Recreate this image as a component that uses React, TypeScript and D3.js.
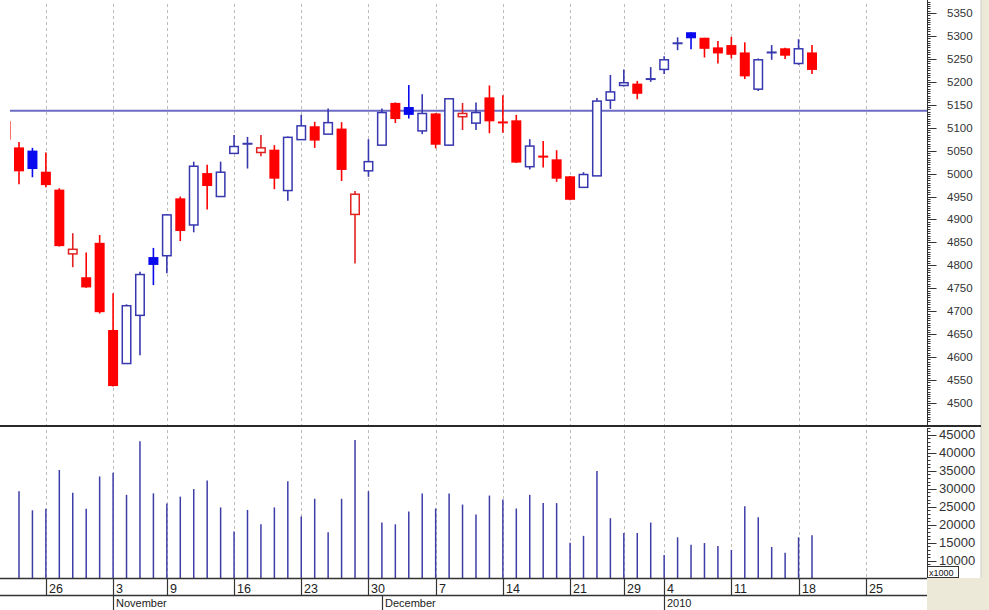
import React, { useEffect, useRef } from 'react';
import * as d3 from 'd3';

// trading days, Oct 21 2009 .. Jan 19 2010
const days = [
  'Oct 21', 'Oct 22', 'Oct 23', 'Oct 26', 'Oct 27', 'Oct 28', 'Oct 29', 'Oct 30',
  'Nov 3', 'Nov 4', 'Nov 5', 'Nov 6', 'Nov 9', 'Nov 10', 'Nov 11', 'Nov 12', 'Nov 13',
  'Nov 16', 'Nov 17', 'Nov 18', 'Nov 19', 'Nov 20', 'Nov 23', 'Nov 24', 'Nov 25', 'Nov 26', 'Nov 27',
  'Nov 30', 'Dec 1', 'Dec 2', 'Dec 3', 'Dec 4', 'Dec 7', 'Dec 8', 'Dec 9', 'Dec 10', 'Dec 11',
  'Dec 14', 'Dec 15', 'Dec 16', 'Dec 17', 'Dec 18', 'Dec 21', 'Dec 22', 'Dec 23', 'Dec 24',
  'Dec 29', 'Dec 30', 'Dec 31', 'Jan 4', 'Jan 5', 'Jan 6', 'Jan 7', 'Jan 8',
  'Jan 11', 'Jan 12', 'Jan 13', 'Jan 14', 'Jan 15', 'Jan 18', 'Jan 19'
];

const opens = [
  5113, 5056, 5049, 5003, 4964, 4825, 4773, 4848, 4658, 4586, 4691, 4817, 4821, 4945, 4888, 5000, 4950,
  5044, 5064, 5046, 5051, 4963, 5074, 5102, 5086, 5097, 4911, 5006, 5062, 5153, 5144, 5093, 5130,
  5062, 5124, 5110, 5165, 5112, 5115, 5015, 5038, 5030, 4993, 4970, 4995, 5160, 5192, 5195, 5205,
  5227, 5283, 5307, 5295, 5274, 5279, 5263, 5184, 5263, 5272, 5240, 5263
];
const highs = [
  5113, 5069, 5056, 5046, 4968, 4870, 4828, 4866, 4739, 4715, 4786, 4838, 4912, 4950, 5026, 5019, 5026,
  5084, 5080, 5084, 5062, 5081, 5128, 5113, 5142, 5112, 4962, 5075, 5142, 5155, 5193, 5173, 5132,
  5165, 5154, 5155, 5192, 5171, 5128, 5075, 5071, 5051, 4995, 5003, 5165, 5215, 5227, 5202, 5232,
  5256, 5297, 5308, 5296, 5289, 5298, 5286, 5251, 5280, 5274, 5293, 5280
];
const lows = [
  5075, 4977, 4992, 4970, 4841, 4796, 4751, 4695, 4536, 4586, 4604, 4757, 4783, 4853, 4872, 4922, 4950,
  5044, 5011, 5038, 4966, 4941, 5074, 5056, 5086, 4984, 4804, 4993, 5062, 5110, 5120, 5086, 5055,
  5060, 5095, 5095, 5088, 5089, 5023, 5009, 5013, 4982, 4942, 4970, 4995, 5141, 5190, 5162, 5200,
  5217, 5269, 5271, 5253, 5240, 5251, 5206, 5180, 5248, 5250, 5237, 5217
];
const closes = [
  5075, 5006, 5011, 4976, 4843, 4835, 4753, 4699, 4538, 4712, 4780, 4802, 4910, 4876, 5016, 4974, 5003,
  5059, 5066, 5056, 4990, 5079, 5104, 5073, 5111, 5009, 4955, 5026, 5133, 5120, 5129, 5131, 5064,
  5163, 5131, 5133, 5115, 5111, 5025, 5060, 5036, 4990, 4944, 4998, 5158, 5178, 5198, 5175, 5207,
  5248, 5285, 5296, 5273, 5263, 5260, 5213, 5248, 5265, 5258, 5272, 5227
];
const volumes = [
  25000, 29300, 24000, 24400, 35200, 28900, 24400, 33400, 34400, 28300, 43200, 28700, 25900, 27800, 29900,
  32300, 24800, 18100, 24100, 20100, 24800, 32100, 22300, 27200, 17900, 27200, 43500, 29300, 20600, 20100,
  23700, 28700, 24500, 28700, 25600, 22800, 28100, 27000, 24500, 28300, 26000, 26000, 15000, 16900, 34900,
  21800, 17700, 17700, 20600, 11600, 16500, 14400, 14900, 14100, 13000, 25100, 22100, 13800, 12200, 16500, 17100
];

const refLevel = 5137;
const priceTicks = [5350, 5300, 5250, 5200, 5150, 5100, 5050, 5000, 4950, 4900, 4850, 4800, 4750, 4700, 4650, 4600, 4550, 4500];
const volumeTicks = [45000, 40000, 35000, 30000, 25000, 20000, 15000, 10000];
const weekTickIdx = [3, 8, 12, 17, 22, 27, 32, 37, 42, 46, 49, 54, 59, 64];
const weekTickLabels = ['26', '3', '9', '16', '23', '30', '7', '14', '21', '29', '4', '11', '18', '25'];
const monthTickIdx = [8, 28, 49];
const monthTickLabels = ['November', 'December', '2010'];

const W = 989;
const H = 610;
const FONT = '"Liberation Sans", Arial, sans-serif';

export default function App() {
  const svgRef = useRef<SVGSVGElement>(null);

  useEffect(() => {
    if (!svgRef.current) return;
    const svg = d3.select(svgRef.current);
    svg.selectAll('*').remove();

    const plotLeft = 10;
    const plotRight = 927;
    const priceTop = 0;
    const priceBottom = 425;
    const volTop = 427;
    const volBottom = 578;

    const x = d3.scaleLinear().domain([0, 60]).range([5.56, 812]);
    const y = d3.scaleLinear().domain([4500, 5350]).range([403, 13]);
    const yv = d3.scaleLinear().domain([10000, 45000]).range([560.7, 434.7]);
    const bodyW = 10;

    svg.attr('width', W).attr('height', H).style('background', '#fff');

    const defs = svg.append('defs');
    defs.append('clipPath').attr('id', 'clipPrice').append('rect')
      .attr('x', plotLeft).attr('y', priceTop).attr('width', plotRight - plotLeft).attr('height', priceBottom - priceTop);
    defs.append('clipPath').attr('id', 'clipVol').append('rect')
      .attr('x', plotLeft).attr('y', volTop).attr('width', plotRight - plotLeft).attr('height', volBottom - volTop);

    // beige window chrome on the right
    svg.append('rect').attr('x', 981).attr('y', 0).attr('width', 8).attr('height', H).attr('fill', '#ece9d8');
    svg.append('rect').attr('x', plotRight).attr('y', volBottom).attr('width', W - plotRight).attr('height', H - volBottom).attr('fill', '#ece9d8');
    svg.append('line').attr('x1', 981).attr('x2', 981).attr('y1', 0).attr('y2', volBottom)
      .attr('stroke', '#cfcdc0').attr('stroke-width', 1);

    // weekly dashed gridlines
    svg.append('g').selectAll('line').data(weekTickIdx).enter().append('line')
      .attr('x1', (d: number) => Math.round(x(d)) + 0.5)
      .attr('x2', (d: number) => Math.round(x(d)) + 0.5)
      .attr('y1', 4).attr('y2', volBottom)
      .attr('stroke', '#bcbcbc').attr('stroke-width', 1).attr('stroke-dasharray', '3,3');

    // reference line
    svg.append('line')
      .attr('x1', plotLeft).attr('x2', plotRight)
      .attr('y1', y(refLevel)).attr('y2', y(refLevel))
      .attr('stroke', '#6b6bc4').attr('stroke-width', 2);

    // candles
    const candles = svg.append('g').attr('clip-path', 'url(#clipPrice)');
    const RED = '#ff0000';
    const BLUE = '#0a0aee';
    const RED_LINE = '#e32020';
    const BLUE_LINE = '#3737b0';
    days.forEach((_, i) => {
      const o = opens[i], c = closes[i], h = highs[i], l = lows[i];
      const prev = i === 0 ? o : closes[i - 1];
      const isBlue = c >= prev;
      const hollow = c > o;
      const fillCol = isBlue ? BLUE : RED;
      const lineCol = hollow ? (isBlue ? BLUE_LINE : RED_LINE) : fillCol;
      const cx = x(i);
      candles.append('line')
        .attr('x1', cx).attr('x2', cx).attr('y1', y(h)).attr('y2', y(l))
        .attr('stroke', lineCol).attr('stroke-width', 1.6);
      if (Math.abs(o - c) <= 3) {
        candles.append('line')
          .attr('x1', cx - bodyW / 2).attr('x2', cx + bodyW / 2)
          .attr('y1', y((o + c) / 2)).attr('y2', y((o + c) / 2))
          .attr('stroke', lineCol).attr('stroke-width', 2);
        return;
      }
      const top = y(Math.max(o, c));
      const bot = y(Math.min(o, c));
      if (hollow) {
        candles.append('rect')
          .attr('x', cx - bodyW / 2 + 0.75).attr('y', top)
          .attr('width', bodyW - 1.5).attr('height', bot - top)
          .attr('fill', '#fff').attr('stroke', lineCol).attr('stroke-width', 1.5);
      } else {
        candles.append('rect')
          .attr('x', cx - bodyW / 2).attr('y', top - 0.5)
          .attr('width', bodyW).attr('height', bot - top + 1)
          .attr('fill', fillCol);
      }
    });

    // volume bars
    const vb = svg.append('g').attr('clip-path', 'url(#clipVol)');
    vb.selectAll('line').data(volumes).enter().append('line')
      .attr('x1', (_: number, i: number) => x(i))
      .attr('x2', (_: number, i: number) => x(i))
      .attr('y1', yv(5000))
      .attr('y2', (d: number) => yv(d))
      .attr('stroke', '#3d3da8').attr('stroke-width', 1.5);

    // panel separators
    svg.append('line').attr('x1', 0).attr('x2', 981).attr('y1', 426).attr('y2', 426)
      .attr('stroke', '#2a2a2a').attr('stroke-width', 2);
    svg.append('line').attr('x1', 0).attr('x2', plotRight).attr('y1', volBottom + 0.5).attr('y2', volBottom + 0.5)
      .attr('stroke', '#333').attr('stroke-width', 1.3);
    svg.append('line').attr('x1', 0).attr('x2', plotRight).attr('y1', 595.5).attr('y2', 595.5)
      .attr('stroke', '#333').attr('stroke-width', 1.3);

    // right price axis
    const axisX = plotRight + 0.5;
    const pAxis = svg.append('g');
    pAxis.append('line').attr('x1', axisX).attr('x2', axisX).attr('y1', 0).attr('y2', 425)
      .attr('stroke', '#333').attr('stroke-width', 1);
    d3.range(4450, 5380, 5).forEach((v: number) => {
      const yy = Math.round(y(v)) + 0.5;
      if (yy < 1 || yy > 424) return;
      const major = v % 50 === 0;
      pAxis.append('line').attr('x1', axisX).attr('x2', axisX + (major ? 9 : 3))
        .attr('y1', yy).attr('y2', yy).attr('stroke', '#333').attr('stroke-width', 1);
    });
    pAxis.selectAll('text').data(priceTicks).enter().append('text')
      .attr('x', 947).attr('y', (d: number) => y(d) + 4)
      .style('font-family', FONT).style('font-size', '11.5px').style('fill', '#333')
      .text((d: number) => String(d));

    // right volume axis
    const vAxis = svg.append('g');
    vAxis.append('line').attr('x1', axisX).attr('x2', axisX).attr('y1', 428).attr('y2', volBottom)
      .attr('stroke', '#333').attr('stroke-width', 1);
    d3.range(6000, 48000, 1000).forEach((v: number) => {
      const yy = Math.round(yv(v)) + 0.5;
      if (yy < 428 || yy > 577) return;
      const major = v % 5000 === 0;
      vAxis.append('line').attr('x1', axisX).attr('x2', axisX + (major ? 9 : 3))
        .attr('y1', yy).attr('y2', yy).attr('stroke', '#333').attr('stroke-width', 1);
    });
    vAxis.selectAll('text').data(volumeTicks).enter().append('text')
      .attr('x', 939).attr('y', (d: number) => yv(d) + 4.5)
      .style('font-family', FONT).style('font-size', '13px').style('fill', '#333')
      .text((d: number) => String(d));
    vAxis.append('rect').attr('x', 927.5).attr('y', 566.5).attr('width', 31).attr('height', 11)
      .attr('fill', '#fff').attr('stroke', '#333').attr('stroke-width', 1);
    vAxis.append('text').attr('x', 929).attr('y', 575.5)
      .style('font-family', FONT).style('font-size', '9px').style('fill', '#111').text('x1000');

    // date axis: weeks
    const dAxis = svg.append('g');
    weekTickIdx.forEach((d, k) => {
      const xx = Math.round(x(d)) + 0.5;
      dAxis.append('line').attr('x1', xx).attr('x2', xx).attr('y1', volBottom).attr('y2', 595)
        .attr('stroke', '#333').attr('stroke-width', 1.2);
      dAxis.append('text').attr('x', xx + 2.5).attr('y', 592.5)
        .style('font-family', FONT).style('font-size', '12.5px').style('fill', '#222')
        .text(weekTickLabels[k]);
    });
    // months
    monthTickIdx.forEach((d, k) => {
      const xx = Math.round(x(d)) + 0.5;
      dAxis.append('line').attr('x1', xx).attr('x2', xx).attr('y1', 595).attr('y2', H)
        .attr('stroke', '#333').attr('stroke-width', 1.2);
      dAxis.append('text').attr('x', xx + 2.5).attr('y', 607)
        .style('font-family', FONT).style('font-size', '11px').style('fill', '#222')
        .text(monthTickLabels[k]);
    });

    return () => {
      svg.selectAll('*').remove();
    };
  }, []);

  return (
    <div style={{ position: 'absolute', left: 0, top: 0, width: W, height: H, overflow: 'hidden' }}>
      <svg ref={svgRef} style={{ display: 'block' }} />
    </div>
  );
}
